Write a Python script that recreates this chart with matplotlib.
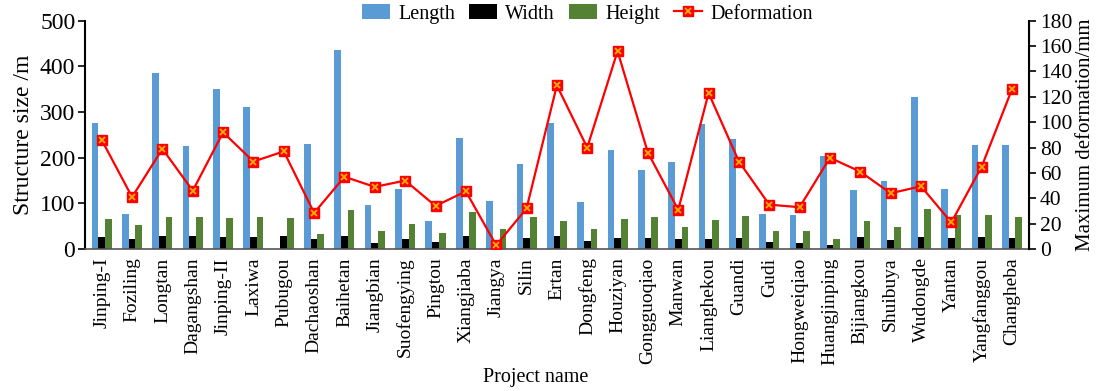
import matplotlib
matplotlib.use('Agg')
import matplotlib.pyplot as plt
import numpy as np

plt.rcParams['font.family'] = ['Liberation Serif', 'DejaVu Serif']
plt.rcParams['font.size'] = 14

projects = ['Jinping-I', 'Foziling', 'Longtan', 'Dagangshan', 'Jinping-II', 'Laxiwa',
            'Pubugou', 'Dachaoshan', 'Baihetan', 'Jiangbian', 'Suofengying', 'Pingtou',
            'Xiangjiaba', 'Jiangya', 'Silin', 'Ertan', 'Dongfeng', 'Houziyan',
            'Gongguoqiao', 'Manwan', 'Lianghekou', 'Guandi', 'Gudi', 'Hongweiqiao',
            'Huangjinping', 'Bijiangkou', 'Shuibuya', 'Wudongde', 'Yantan',
            'Yangfanggou', 'Changheba']

# structure size (m)
length = [275, 77, 386, 225, 350, 310, 0, 231, 436, 96, 132, 62, 243, 105, 187,
          277, 102, 218, 173, 190, 273, 241, 77, 74, 204, 130, 149, 332, 132, 227, 227]
width = [26, 23, 28, 28, 26, 27, 29, 21, 29, 14, 21, 16, 28, 5, 24,
         28, 18, 25, 24, 21, 22, 25, 16, 14, 8, 26, 19, 26, 24, 26, 24]
height = [66, 53, 71, 71, 68, 71, 67, 33, 85, 40, 54, 36, 82, 43, 71,
          62, 45, 65, 71, 49, 64, 73, 40, 40, 21, 61, 49, 88, 74, 74, 71]

# maximum deformation (mm)
deformation = [86, 41, 79, 46, 92, 69, 77, 28.5, 57, 49, 54, 34, 45.5, 3, 32,
               129, 80, 156, 76, 31, 123, 69, 35, 33, 72, 61, 44, 49.5, 21, 65, 126]

x = np.arange(len(projects))
w = 0.22

fig = plt.figure(figsize=(10.96, 3.91), dpi=100)
ax = fig.add_axes([0.0776, 0.363, 0.861, 0.584])

b1 = ax.bar(x - w, length, w, color='#5B9BD5', label='Length')
b2 = ax.bar(x, width, w, color='black', label='Width')
b3 = ax.bar(x + w, height, w, color='#548235', label='Height')

ax.set_xlim(-0.55, len(projects) - 0.45)
ax.set_ylim(0, 500)
ax.set_yticks(range(0, 501, 100))
ax.set_xticks(x)
ax.set_xticklabels(projects, rotation=90, fontsize=14)
ax.tick_params(axis='x', length=0, pad=6)
ax.tick_params(axis='y', direction='out', length=5, width=1.2, labelsize=17, pad=2)
ax.set_ylabel('Structure size /m', fontsize=17, labelpad=4)
ax.set_xlabel('Project name', fontsize=14.5)
ax.xaxis.set_label_coords(0.478, -0.52)
ax.spines['top'].set_visible(False)
ax.spines['left'].set_linewidth(1.5)
ax.spines['bottom'].set_color('#555555')
ax.spines['bottom'].set_linewidth(1.2)

ax2 = ax.twinx()
l1, = ax2.plot(x, deformation, color='red', lw=1.6, marker='s', ms=7,
               mfc='red', mec='red')
l2, = ax2.plot(x, deformation, ls='none', marker='x', ms=5, mew=1.3,
               color='#FFB000')
ax2.set_ylim(0, 180)
ax2.set_yticks(range(0, 181, 20))
ax2.tick_params(axis='y', direction='out', length=5, width=1.2, labelsize=15.5, pad=3)
ax2.set_ylabel('Maximum deformation/mm', fontsize=15, labelpad=3)
ax2.spines['top'].set_visible(False)
ax2.spines['left'].set_visible(False)
ax2.spines['bottom'].set_visible(False)
ax2.spines['right'].set_linewidth(1.5)

fig.legend([b1, b2, b3, (l1, l2)], ['Length', 'Width', 'Height', 'Deformation'],
           loc='upper center', bbox_to_anchor=(0.536, 1.035), ncol=4, fontsize=14.5,
           frameon=False, handlelength=1.4, columnspacing=0.7, handletextpad=0.4)

fig.savefig('out.png', dpi=100)
